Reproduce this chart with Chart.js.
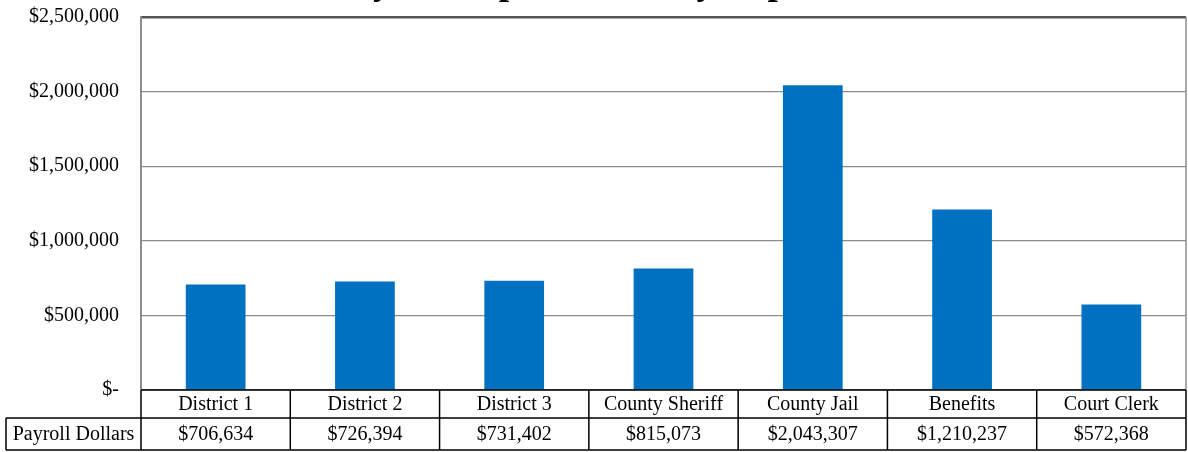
<!DOCTYPE html>
<html>
<head>
<meta charset="utf-8">
<script src="https://cdn.jsdelivr.net/npm/chart.js@4"></script>
<style>
  body { margin: 0; background: #fff; }
  #wrap { width: 1188px; height: 452px; }
</style>
</head>
<body>
<div id="wrap"><canvas id="grafica" width="1188" height="452"></canvas></div>
<script>
const categorias = ["District 1", "District 2", "District 3", "County Sheriff", "County Jail", "Benefits", "Court Clerk"];
const payroll = [706634, 726394, 731402, 815073, 2043307, 1210237, 572368];
const serieNombre = "Payroll Dollars";
const titulo = "Payroll Expenditures by Department";
const ticksY = [0, 500000, 1000000, 1500000, 2000000, 2500000];

const fuente = '"Liberation Serif", "Times New Roman", serif';

function dinero(v) {
  if (v === 0) return "$-";
  return "$" + v.toLocaleString("en-US");
}

// dibuja la tabla de datos debajo del grafico y el titulo cortado arriba
const tablaPlugin = {
  id: "tabla",
  afterDraw(chart) {
    const ctx = chart.ctx;
    const area = chart.chartArea;
    const x = chart.scales.x;
    const n = categorias.length;
    const paso = (area.right - area.left) / n;
    const fila1 = area.bottom;
    const fila2 = fila1 + 28;
    const fin = fila2 + 32;
    const izq = 6;

    ctx.save();
    // borde derecho del area
    ctx.strokeStyle = "#8c8c8c";
    ctx.lineWidth = 1.5;
    ctx.beginPath();
    ctx.moveTo(area.right, area.top);
    ctx.lineTo(area.right, area.bottom);
    ctx.stroke();

    ctx.strokeStyle = "#000";
    ctx.lineWidth = 1.5;
    ctx.beginPath();
    ctx.moveTo(area.left, fila1); ctx.lineTo(area.right, fila1);
    ctx.moveTo(izq, fila2); ctx.lineTo(area.right, fila2);
    ctx.moveTo(izq, fin); ctx.lineTo(area.right, fin);
    ctx.moveTo(izq, fila2); ctx.lineTo(izq, fin);
    for (let i = 0; i <= n; i++) {
      const cx = area.left + paso * i;
      ctx.moveTo(cx, fila1); ctx.lineTo(cx, fin);
    }
    ctx.stroke();

    ctx.fillStyle = "#000";
    ctx.font = "20px " + fuente;
    ctx.textAlign = "center";
    ctx.textBaseline = "middle";
    categorias.forEach((c, i) => {
      const cx = x.getPixelForValue(i);
      ctx.fillText(c, cx, (fila1 + fila2) / 2 + 1);
      ctx.fillText(dinero(payroll[i]), cx, (fila2 + fin) / 2 + 1);
    });
    ctx.fillText(serieNombre, (izq + area.left) / 2, (fila2 + fin) / 2 + 1);

    ctx.font = "bold 37px " + fuente;
    ctx.textAlign = "left";
    ctx.textBaseline = "alphabetic";
    ctx.fillText(titulo, 332, -6);
    ctx.restore();
  }
};

new Chart(document.getElementById("grafica"), {
  type: "bar",
  data: {
    labels: categorias,
    datasets: [{
      label: serieNombre,
      data: payroll,
      backgroundColor: "#0070C0",
      borderWidth: 0,
      categoryPercentage: 1,
      barPercentage: 0.4
    }]
  },
  options: {
    responsive: false,
    animation: false,
    layout: { padding: { top: 17, right: 2, bottom: 62, left: 0 } },
    plugins: {
      legend: { display: false },
      title: { display: false },
      tooltip: { enabled: false }
    },
    scales: {
      x: { display: false },
      y: {
        min: 0,
        max: 2500000,
        afterFit(s) { s.width = 141; s.paddingTop = 0; s.paddingBottom = 0; },
        afterBuildTicks(s) { s.ticks = ticksY.map(v => ({ value: v })); },
        border: { display: true, color: "#8c8c8c", width: 2 },
        grid: {
          drawTicks: true,
          tickLength: 22,
          tickColor: "rgba(0,0,0,0)",
          color: ctx => ctx.tick.value === 2500000 ? "#555" : "#8c8c8c",
          lineWidth: ctx => ctx.tick.value === 2500000 ? 2.5 : 1.2
        },
        ticks: {
          padding: 0,
          color: "#000",
          font: { family: fuente, size: 20 },
          callback: v => dinero(v)
        }
      }
    }
  },
  plugins: [tablaPlugin]
});
</script>
</body>
</html>
